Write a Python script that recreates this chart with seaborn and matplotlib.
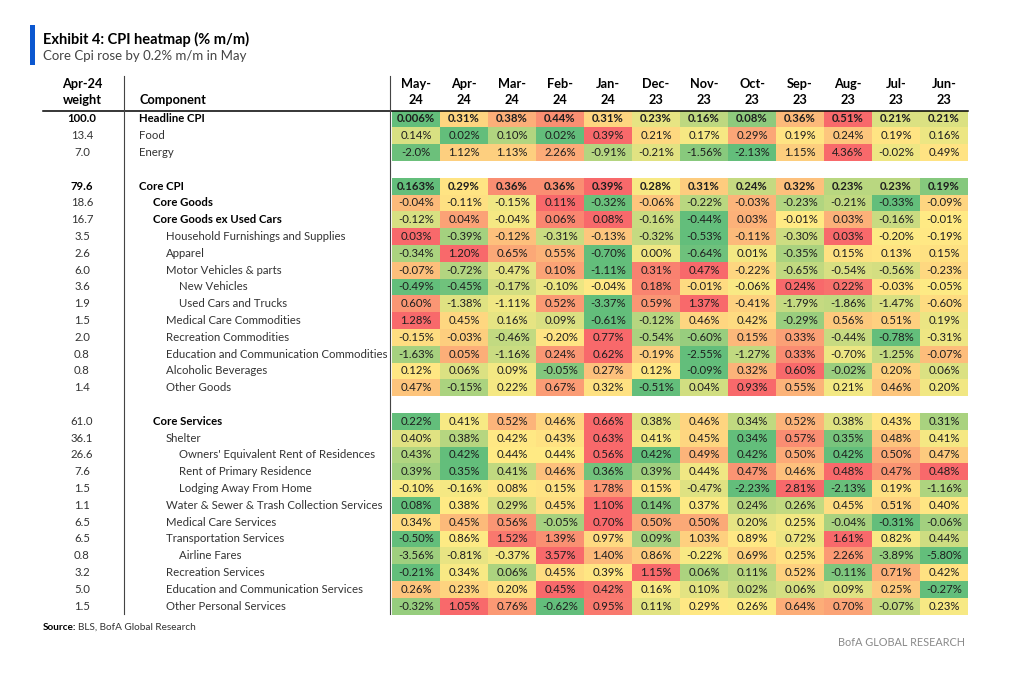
# CPI heatmap (% m/m) - BofA style table with per-row colour scale

import matplotlib
matplotlib.use("Agg")
import matplotlib.pyplot as plt
import matplotlib.transforms as mtransforms
from matplotlib.colors import LinearSegmentedColormap
from matplotlib.lines import Line2D
from matplotlib.patches import Rectangle
import seaborn as sns
import numpy as np

# ======================
# Data (as printed in the table, % m/m)
# ======================
months = ["May-24", "Apr-24", "Mar-24", "Feb-24", "Jan-24", "Dec-23",
          "Nov-23", "Oct-23", "Sep-23", "Aug-23", "Jul-23", "Jun-23"]

headline = ["0.006", "0.31", "0.38", "0.44", "0.31", "0.23", "0.16", "0.08", "0.36", "0.51", "0.21", "0.21"]
food = ["0.14", "0.02", "0.10", "0.02", "0.39", "0.21", "0.17", "0.29", "0.19", "0.24", "0.19", "0.16"]
energy = ["-2.0", "1.12", "1.13", "2.26", "-0.91", "-0.21", "-1.56", "-2.13", "1.15", "4.36", "-0.02", "0.49"]

core_cpi = ["0.163", "0.29", "0.36", "0.36", "0.39", "0.28", "0.31", "0.24", "0.32", "0.23", "0.23", "0.19"]
core_goods = ["-0.04", "-0.11", "-0.15", "0.11", "-0.32", "-0.06", "-0.22", "-0.03", "-0.23", "-0.21", "-0.33", "-0.09"]
core_goods_ex_used = ["-0.12", "0.04", "-0.04", "0.06", "0.08", "-0.16", "-0.44", "0.03", "-0.01", "0.03", "-0.16", "-0.01"]
household = ["0.03", "-0.39", "-0.12", "-0.31", "-0.13", "-0.32", "-0.53", "-0.11", "-0.30", "0.03", "-0.20", "-0.19"]
apparel = ["-0.34", "1.20", "0.65", "0.55", "-0.70", "0.00", "-0.64", "0.01", "-0.35", "0.15", "0.13", "0.15"]
motor_vehicles = ["-0.07", "-0.72", "-0.47", "0.10", "-1.11", "0.31", "0.47", "-0.22", "-0.65", "-0.54", "-0.56", "-0.23"]
new_vehicles = ["-0.49", "-0.45", "-0.17", "-0.10", "-0.04", "0.18", "-0.01", "-0.06", "0.24", "0.22", "-0.03", "-0.05"]
used_cars = ["0.60", "-1.38", "-1.11", "0.52", "-3.37", "0.59", "1.37", "-0.41", "-1.79", "-1.86", "-1.47", "-0.60"]
medical_comm = ["1.28", "0.45", "0.16", "0.09", "-0.61", "-0.12", "0.46", "0.42", "-0.29", "0.56", "0.51", "0.19"]
recreation_comm = ["-0.15", "-0.03", "-0.46", "-0.20", "0.77", "-0.54", "-0.60", "0.15", "0.33", "-0.44", "-0.78", "-0.31"]
education_comm = ["-1.63", "0.05", "-1.16", "0.24", "0.62", "-0.19", "-2.55", "-1.27", "0.33", "-0.70", "-1.25", "-0.07"]
alcohol = ["0.12", "0.06", "0.09", "-0.05", "0.27", "0.12", "-0.09", "0.32", "0.60", "-0.02", "0.20", "0.06"]
other_goods = ["0.47", "-0.15", "0.22", "0.67", "0.32", "-0.51", "0.04", "0.93", "0.55", "0.21", "0.46", "0.20"]

core_services = ["0.22", "0.41", "0.52", "0.46", "0.66", "0.38", "0.46", "0.34", "0.52", "0.38", "0.43", "0.31"]
shelter = ["0.40", "0.38", "0.42", "0.43", "0.63", "0.41", "0.45", "0.34", "0.57", "0.35", "0.48", "0.41"]
oer = ["0.43", "0.42", "0.44", "0.44", "0.56", "0.42", "0.49", "0.42", "0.50", "0.42", "0.50", "0.47"]
rent = ["0.39", "0.35", "0.41", "0.46", "0.36", "0.39", "0.44", "0.47", "0.46", "0.48", "0.47", "0.48"]
lodging = ["-0.10", "-0.16", "0.08", "0.15", "1.78", "0.15", "-0.47", "-2.23", "2.81", "-2.13", "0.19", "-1.16"]
water = ["0.08", "0.38", "0.29", "0.45", "1.10", "0.14", "0.37", "0.24", "0.26", "0.45", "0.51", "0.40"]
medical_serv = ["0.34", "0.45", "0.56", "-0.05", "0.70", "0.50", "0.50", "0.20", "0.25", "-0.04", "-0.31", "-0.06"]
transport_serv = ["-0.50", "0.86", "1.52", "1.39", "0.97", "0.09", "1.03", "0.89", "0.72", "1.61", "0.82", "0.44"]
airline = ["-3.56", "-0.81", "-0.37", "3.57", "1.40", "0.86", "-0.22", "0.69", "0.25", "2.26", "-3.89", "-5.80"]
recreation_serv = ["-0.21", "0.34", "0.06", "0.45", "0.39", "1.15", "0.06", "0.11", "0.52", "-0.11", "0.71", "0.42"]
education_serv = ["0.26", "0.23", "0.20", "0.45", "0.42", "0.16", "0.10", "0.02", "0.06", "0.09", "0.25", "-0.27"]
other_personal = ["-0.32", "1.05", "0.76", "-0.62", "0.95", "0.11", "0.29", "0.26", "0.64", "0.70", "-0.07", "0.23"]

components = [
    "Headline CPI", "Food", "Energy", "",
    "Core CPI", "Core Goods", "Core Goods ex Used Cars",
    "Household Furnishings and Supplies", "Apparel", "Motor Vehicles & parts",
    "New Vehicles", "Used Cars and Trucks", "Medical Care Commodities",
    "Recreation Commodities", "Education and Communication Commodities",
    "Alcoholic Beverages", "Other Goods", "",
    "Core Services", "Shelter", "Owners' Equivalent Rent of Residences",
    "Rent of Primary Residence", "Lodging Away From Home",
    "Water & Sewer & Trash Collection Services", "Medical Care Services",
    "Transportation Services", "Airline Fares", "Recreation Services",
    "Education and Communication Services", "Other Personal Services",
]
weights = ["100.0", "13.4", "7.0", "",
           "79.6", "18.6", "16.7", "3.5", "2.6", "6.0", "3.6", "1.9", "1.5",
           "2.0", "0.8", "0.8", "1.4", "",
           "61.0", "36.1", "26.6", "7.6", "1.5", "1.1", "6.5", "6.5", "0.8",
           "3.2", "5.0", "1.5"]
indent = [0, 0, 0, 0,
          0, 1, 1, 2, 2, 2, 3, 3, 2, 2, 2, 2, 2, 0,
          1, 2, 3, 3, 3, 2, 2, 2, 3, 2, 2, 2]
series = [headline, food, energy, None,
          core_cpi, core_goods, core_goods_ex_used, household, apparel,
          motor_vehicles, new_vehicles, used_cars, medical_comm,
          recreation_comm, education_comm, alcohol, other_goods, None,
          core_services, shelter, oer, rent, lodging, water, medical_serv,
          transport_serv, airline, recreation_serv, education_serv,
          other_personal]

bold_labels = {"Headline CPI", "Core CPI", "Core Goods", "Core Goods ex Used Cars", "Core Services"}
bold_rows = {"Headline CPI", "Core CPI"}

# ======================
# Per-row 3-colour scale (min green, median yellow, max red)
# ======================
n_rows, n_cols = len(series), len(months)
z = np.full((n_rows, n_cols), np.nan)
annot = np.full((n_rows, n_cols), "", dtype=object)
for i, row in enumerate(series):
    if row is None:
        continue
    v = np.array([float(s) for s in row])
    lo, mid, hi = v.min(), np.median(v), v.max()
    for j, x in enumerate(v):
        if x >= mid:
            z[i, j] = 0.5 + 0.5 * (x - mid) / (hi - mid) if hi > mid else 0.5
        else:
            z[i, j] = 0.5 - 0.5 * (mid - x) / (mid - lo)
        annot[i, j] = row[j] + "%"

cmap = LinearSegmentedColormap.from_list("excel3", ["#63BE7B", "#FFEB84", "#F8696B"])

plt.rcParams["font.family"] = ["Lato", "DejaVu Sans"]

W, H = 1010, 674
def fx(x):
    return x / W
def fy(y):
    return 1 - y / H

fs = 8.2  # body text size

fig = plt.figure(figsize=(W / 100, H / 100), dpi=100)
top, bottom, left, right = 110.5, 614.5, 392, 968
ax = fig.add_axes([fx(left), fy(bottom), fx(right) - fx(left), fy(top) - fy(bottom)])
sns.heatmap(z, mask=np.isnan(z), cmap=cmap, vmin=0, vmax=1, annot=annot, fmt="",
            cbar=False, xticklabels=False, yticklabels=False, linewidths=0,
            annot_kws=dict(fontsize=fs, color="#1e1e1e"), ax=ax)
for t in ax.texts:
    r = int(t.get_position()[1])
    if components[r] in bold_rows:
        t.set_fontweight("bold")

# row labels and weights
ytrans = mtransforms.blended_transform_factory(fig.transFigure, ax.transData)
indent_x = [139, 153, 166, 179]
for i, name in enumerate(components):
    if not name:
        continue
    b = name in bold_labels
    ax.text(fx(indent_x[indent[i]]), i + 0.5, name, transform=ytrans, ha="left", va="center",
            fontsize=fs, fontweight="bold" if b else "normal",
            color="black" if b else "#333333", clip_on=False)
    wb = name in bold_rows
    ax.text(fx(82), i + 0.5, weights[i], transform=ytrans, ha="center", va="center",
            fontsize=fs, fontweight="bold" if wb else "normal",
            color="black" if wb else "#333333", clip_on=False)

# column headers
xtrans = mtransforms.blended_transform_factory(ax.transData, fig.transFigure)
for j, m in enumerate(months):
    a, b = m.split("-")
    ax.text(j + 0.5, fy(84), a + "-", transform=xtrans, ha="center", va="center",
            fontsize=9.2, fontweight="bold", clip_on=False)
    ax.text(j + 0.5, fy(100), b, transform=xtrans, ha="center", va="center",
            fontsize=9.2, fontweight="bold", clip_on=False)
fig.text(fx(82), fy(84), "Apr-24", ha="center", va="center", fontsize=9.2, fontweight="bold")
fig.text(fx(82), fy(100), "weight", ha="center", va="center", fontsize=9.2, fontweight="bold")
fig.text(fx(140), fy(100), "Component", ha="left", va="center", fontsize=9.2, fontweight="bold")

# rules
fig.add_artist(Line2D([fx(43), fx(right)], [fy(110.5)] * 2, transform=fig.transFigure,
                      color="black", lw=1.1))
for xv in (124, 390):
    fig.add_artist(Line2D([fx(xv)] * 2, [fy(76), fy(614)], transform=fig.transFigure,
                          color="#444444", lw=0.8))

# title block
fig.add_artist(Rectangle((fx(30), fy(65)), fx(35) - fx(30), fy(25) - fy(65),
                         transform=fig.transFigure, color="#0B57D0", lw=0))
fig.text(fx(43), fy(39), "Exhibit 4: CPI heatmap (% m/m)", ha="left", va="center",
         fontsize=10.5, fontweight="bold", color="black")
fig.text(fx(43), fy(56), "Core Cpi rose by 0.2% m/m in May", ha="left", va="center",
         fontsize=9.5, color="#444444")

# footer
src = fig.text(fx(43), fy(627), "Source:", ha="left", va="center", fontsize=7.2, fontweight="bold")
bb = src.get_window_extent(fig.canvas.get_renderer())
fig.text(fx(bb.x1 + 2), fy(627), "BLS, BofA Global Research", ha="left", va="center",
         fontsize=7.2, color="#333333")
fig.text(fx(965), fy(642), "BofA GLOBAL RESEARCH", ha="right", va="center",
         fontsize=7.8, color="#8a8a8a")

fig.savefig("out.png", dpi=100)
